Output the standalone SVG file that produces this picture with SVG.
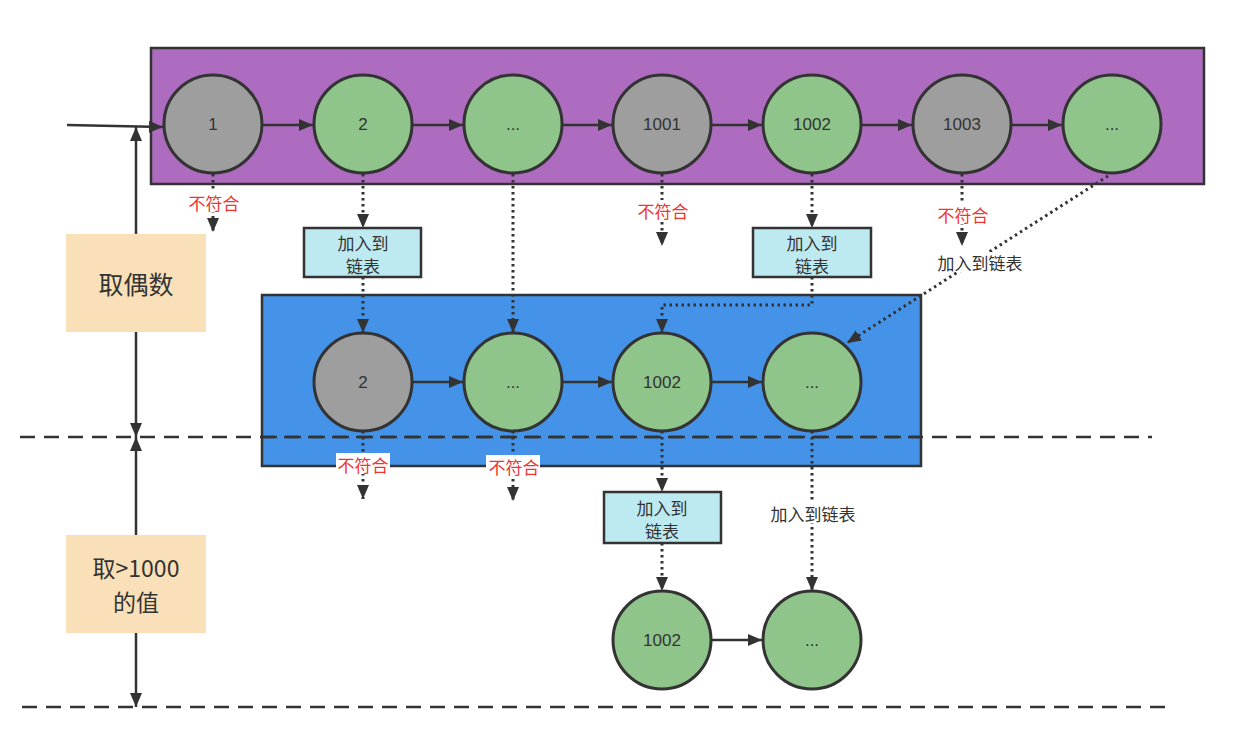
<svg xmlns="http://www.w3.org/2000/svg" width="1248" height="744" viewBox="0 0 1248 744">
<defs>
<style>
.c{stroke:#333;stroke-width:3}
.g{fill:#9e9e9e}
.gr{fill:#8fc48b}
.t{font-family:"Liberation Sans","Noto Sans CJK SC",sans-serif;font-size:17px;fill:#333;text-anchor:middle;dominant-baseline:central}
.cj{font-family:"Noto Sans CJK SC","Liberation Sans",sans-serif;font-size:17px;fill:#333;text-anchor:middle;dominant-baseline:central}
.red{fill:#f0332f}
.big{font-size:25px}
.big2{font-size:23px}
.solid{stroke:#333;stroke-width:2.5;fill:none}
.dot{stroke:#333;stroke-width:3;fill:none;stroke-dasharray:2.5 3.5}
.dash{stroke:#333;stroke-width:2.5;fill:none;stroke-dasharray:15 9}
.box{fill:#bde9f0;stroke:#333;stroke-width:2.5}
</style>
<marker id="a" viewBox="0 0 14 12" refX="14" refY="6" markerWidth="14" markerHeight="12" markerUnits="userSpaceOnUse" orient="auto"><path d="M0,0 L14,6 L0,12 z" fill="#333"/></marker>
</defs>
<rect width="1248" height="744" fill="#fff"/>

<g id="containers">
<rect x="151" y="48" width="1053" height="136" fill="#ae6cc0" stroke="#333" stroke-width="2.5"/>
<rect x="262" y="295" width="659" height="171" fill="#4493e9" stroke="#333" stroke-width="2.5"/>
</g>

<g id="side">
<rect id="side-even" x="66" y="234" width="140" height="98" fill="#fae0b8"/>
<text class="cj big" x="136" y="283">取偶数</text>
<rect id="side-gt1000" x="66" y="535" width="140" height="98" fill="#fae0b8"/>
<text class="cj big2" x="136" y="567">取&gt;1000</text>
<text class="cj big2" x="136" y="601">的值</text>
</g>

<g id="dashed-lines">
<path class="dash" d="M20,437 H1152"/>
<path class="dash" d="M22,707 H1170"/>
</g>

<g id="connectors">
<path class="solid" d="M67,125 L163,127" marker-end="url(#a)"/>
<path class="solid" d="M136,234 V127" marker-end="url(#a)"/>
<path class="solid" d="M136,332 V437" marker-end="url(#a)"/>
<path class="solid" d="M136,535 V437" marker-end="url(#a)"/>
<path class="solid" d="M136,633 V707" marker-end="url(#a)"/>

<path class="solid" d="M263,125 H313" marker-end="url(#a)"/>
<path class="solid" d="M413,125 H463" marker-end="url(#a)"/>
<path class="solid" d="M563,125 H612" marker-end="url(#a)"/>
<path class="solid" d="M712,125 H762" marker-end="url(#a)"/>
<path class="solid" d="M862,125 H912" marker-end="url(#a)"/>
<path class="solid" d="M1012,125 H1062" marker-end="url(#a)"/>

<path class="solid" d="M413,382 H463" marker-end="url(#a)"/>
<path class="solid" d="M563,382 H612" marker-end="url(#a)"/>
<path class="solid" d="M712,382 H762" marker-end="url(#a)"/>

<path class="solid" d="M712,640 H762" marker-end="url(#a)"/>

<path class="dot" d="M213,174 V232" marker-end="url(#a)"/>
<path class="dot" d="M363,174 V228" marker-end="url(#a)"/>
<path class="dot" d="M363,277 V333" marker-end="url(#a)"/>
<path class="dot" d="M513,174 V333" marker-end="url(#a)"/>
<path class="dot" d="M662,174 V246" marker-end="url(#a)"/>
<path class="dot" d="M812,174 V228" marker-end="url(#a)"/>
<path class="dot" d="M812,277 V305 H662 V333" marker-end="url(#a)"/>
<path class="dot" d="M962,174 V246" marker-end="url(#a)"/>
<path class="dot" d="M1108,176 L847,343" marker-end="url(#a)"/>

<path class="dot" d="M363,431 V499" marker-end="url(#a)"/>
<path class="dot" d="M513,431 V501" marker-end="url(#a)"/>
<path class="dot" d="M662,431 V492" marker-end="url(#a)"/>
<path class="dot" d="M662,543 V591" marker-end="url(#a)"/>
<path class="dot" d="M812,431 V591" marker-end="url(#a)"/>

<g id="connector-labels">
<rect x="187" y="192" width="54" height="20" fill="#fff"/>
<text class="cj red" x="214" y="202">不符合</text>
<rect x="636" y="200" width="54" height="20" fill="#fff"/>
<text class="cj red" x="663" y="210">不符合</text>
<rect x="936" y="204" width="54" height="20" fill="#fff"/>
<text class="cj red" x="963" y="214">不符合</text>
<rect x="933" y="252" width="94" height="20" fill="#fff"/>
<text class="cj" x="980" y="262">加入到链表</text>
<rect x="336" y="453" width="54" height="21" fill="#fff"/>
<text class="cj red" x="363" y="464">不符合</text>
<rect x="486" y="455" width="54" height="21" fill="#fff"/>
<text class="cj red" x="514" y="466">不符合</text>
<rect x="766" y="503" width="94" height="20" fill="#fff"/>
<text class="cj" x="813" y="513">加入到链表</text>
</g>
</g>

<g id="box-add-1"><rect class="box" x="304" y="228" width="117" height="49"/><text class="cj" x="363" y="242">加入到</text><text class="cj" x="363" y="265">链表</text></g>
<g id="box-add-2"><rect class="box" x="753" y="228" width="118" height="49"/><text class="cj" x="812" y="242">加入到</text><text class="cj" x="812" y="265">链表</text></g>
<g id="box-add-3"><rect class="box" x="604" y="492" width="117" height="51"/><text class="cj" x="662" y="507">加入到</text><text class="cj" x="662" y="530">链表</text></g>

<g id="n1"><circle class="c g" cx="213" cy="124" r="49"/><text class="t" x="213" y="124">1</text></g>
<g id="n2"><circle class="c gr" cx="363" cy="124" r="49"/><text class="t" x="363" y="124">2</text></g>
<g id="n3"><circle class="c gr" cx="513" cy="124" r="49"/><text class="t" x="513" y="124">...</text></g>
<g id="n1001"><circle class="c g" cx="662" cy="124" r="49"/><text class="t" x="662" y="124">1001</text></g>
<g id="n1002"><circle class="c gr" cx="812" cy="124" r="49"/><text class="t" x="812" y="124">1002</text></g>
<g id="n1003"><circle class="c g" cx="962" cy="124" r="49"/><text class="t" x="962" y="124">1003</text></g>
<g id="n7"><circle class="c gr" cx="1112" cy="124" r="49"/><text class="t" x="1112" y="124">...</text></g>

<g id="m2"><circle class="c g" cx="363" cy="382" r="49"/><text class="t" x="363" y="382">2</text></g>
<g id="m3"><circle class="c gr" cx="513" cy="382" r="49"/><text class="t" x="513" y="382">...</text></g>
<g id="m1002"><circle class="c gr" cx="662" cy="382" r="49"/><text class="t" x="662" y="382">1002</text></g>
<g id="m4"><circle class="c gr" cx="812" cy="382" r="49"/><text class="t" x="812" y="382">...</text></g>

<g id="b1002"><circle class="c gr" cx="662" cy="640" r="49"/><text class="t" x="662" y="640">1002</text></g>
<g id="b2"><circle class="c gr" cx="812" cy="640" r="49"/><text class="t" x="812" y="640">...</text></g>

<path class="dash" d="M262,437 H921"/>
</svg>
